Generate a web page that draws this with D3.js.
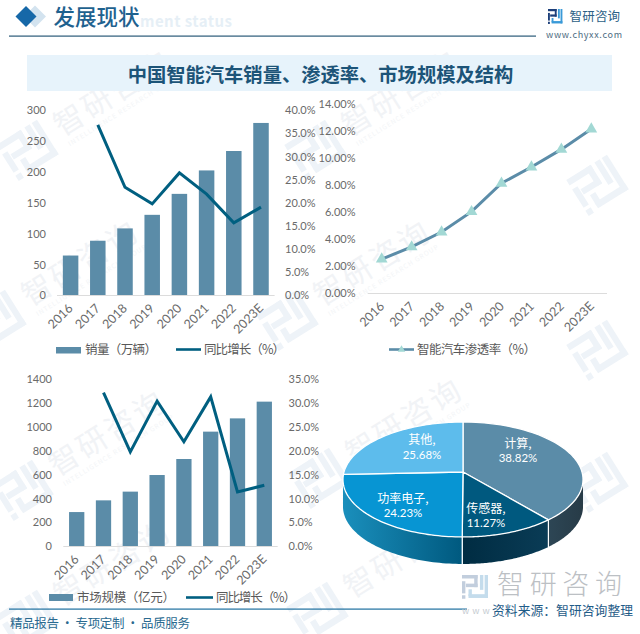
<!DOCTYPE html>
<html><head><meta charset="utf-8">
<script src="https://cdn.jsdelivr.net/npm/d3@7/dist/d3.min.js"></script>
<style>html,body{margin:0;padding:0;background:#fff}svg{display:block}
text{font-family:"Noto Sans CJK SC","Noto Sans",sans-serif}</style></head><body>
<svg id="c" width="640" height="634"></svg>
<script>
const years = ["2016","2017","2018","2019","2020","2021","2022","2023E"];
const salesValues = [64,88,108,130,164,202,233.5,279];
const salesGrowth = [null,36.8,23.3,19.7,26.4,21.8,15.6,19];
const penetration = [2.5,3.4,4.5,6.0,8.1,9.3,10.6,12.1];
const marketValues = [284,382,455,594,728,957,1068,1208];
const marketGrowth = [null,32.1,19.7,30.3,21.8,31.2,11.3,12.7];
const pieNames = ["计算","传感器","功率电子","其他"];
const pieShares = [38.82,11.27,24.23,25.68];

const svg = d3.select("#c");
const BAR="#5b8ca8", DARK="#005f80", TICK="#6a6a6a", LEG="#595959";
const defs = svg.append("defs");

function logo(p,x,y,sx,sy,c1,c2,op){
  const g=p.append("g").attr("transform",`translate(${x},${y}) scale(${sx},${sy})`).attr("opacity",op==null?1:op);
  const navy=[[0,0,12,2.6],[9.4,0,2.6,9],[3,6.4,9,2.6],[0,4.6,2.6,9],[0,15,2.6,2.6]];
  const blue=[[17.4,0,2.6,17],[5,14.2,15,2.8],[5,10.6,2.6,5],[13.8,0,2.6,11]];
  g.selectAll("r1").data(navy).join("rect").attr("x",d=>d[0]).attr("y",d=>d[1]).attr("width",d=>d[2]).attr("height",d=>d[3]).attr("fill",c1);
  g.selectAll("r2").data(blue).join("rect").attr("x",d=>d[0]).attr("y",d=>d[1]).attr("width",d=>d[2]).attr("height",d=>d[3]).attr("fill",c2);
}
// watermark layer: logo plus name; name and caption omitted where they would run off the page
const wm=[[30,150,2],[318,150,2],[600,185,0],[-2,320,2],[290,320,2],[600,350,0],[25,490,2],[322,478,2],[600,482,0],[30,620,1],[320,612,1]];
const wmG=svg.append("g");
wm.forEach(([x,y,level])=>{
  const g=wmG.append("g").attr("transform",`translate(${x},${y}) rotate(-32)`);
  logo(g,-26,-22,2.4,2.4,"#eef3f8","#eef3f8");
  if(level>=1) g.append("text").attr("x",34).attr("y",6).attr("font-size",30).attr("fill","#f1f3f6").attr("letter-spacing",3).text("智研咨询");
  if(level>=2) g.append("text").attr("x",36).attr("y",18).attr("font-size",6.5).attr("fill","#f3f5f7").attr("letter-spacing",1).text("INTELLIGENCE RESEARCH GROUP");
});

// header
const dia=(x,y,r,f)=>svg.append("path").attr("d",`M${x-r} ${y}L${x} ${y-r}L${x+r} ${y}L${x} ${y+r}Z`).attr("fill",f);
dia(35,16.5,11,"#d3e3ef"); dia(26,16.5,10.5,"#1668a8");
svg.append("text").attr("x",140).attr("y",27).attr("font-size",15).attr("font-weight",700)
  .attr("font-family","'DejaVu Serif',serif").attr("fill","#e6eff6").attr("textLength",92).text("ment status");
svg.append("text").attr("x",53.5).attr("y",25).attr("font-size",21.5).attr("font-weight",500).attr("fill","#1f628f").text("发展现状");
svg.append("rect").attr("x",9).attr("y",35.5).attr("width",527).attr("height",1.2).attr("fill","#2a5a78");
logo(svg,548,9,.72,.85,"#1d3f7a","#3a9ad8");
svg.append("text").attr("x",569.5).attr("y",20.5).attr("font-size",12.5).attr("fill","#2c5f86").attr("letter-spacing",.2).text("智研咨询");
svg.append("text").attr("x",546).attr("y",38).attr("font-size",9).attr("font-family","'DejaVu Serif',serif").attr("fill","#4d6c82").attr("textLength",76).text("www.chyxx.com");
svg.append("rect").attr("x",27).attr("y",55).attr("width",585).attr("height",36).attr("fill","#e7f3fb");
svg.append("text").attr("x",320.5).attr("y",82).attr("text-anchor","middle").attr("font-size",19.3).attr("font-weight",700).attr("fill","#1c5478").text("中国智能汽车销量、渗透率、市场规模及结构");

function styleAxis(g,anchor,dx){
  g.select(".domain").remove(); g.selectAll("line").remove();
  g.selectAll("text").attr("fill",TICK).attr("font-size",11).style("font-family","Lato,sans-serif")
    .attr("text-anchor",anchor).attr("dx",0).attr("x",dx).attr("dy",".35em");
}
function xLabels(g){
  g.select(".domain").remove(); g.selectAll("line").remove();
  g.selectAll("text").attr("fill",TICK).attr("font-size",12.5).style("font-family","Lato,sans-serif")
   .attr("text-anchor","end").attr("dy",0).attr("y",0).attr("transform","translate(3,14) rotate(-45)");
}
function legendSwatchBar(x,y,w,h){svg.append("rect").attr("x",x).attr("y",y).attr("width",w).attr("height",h).attr("fill",BAR);}
function legendLine(x,w,y,c){svg.append("line").attr("x1",x).attr("x2",x+w).attr("y1",y).attr("y2",y).attr("stroke",c).attr("stroke-width",2.6);}
function legendText(x,y,t,len){svg.append("text").attr("x",x).attr("y",y+4.5).attr("font-size",12.5).attr("fill",LEG).attr("textLength",len).text(t);}

function combo(o){
  const x=d3.scaleBand().domain(years).range(o.xr).paddingInner(.43).paddingOuter(.215);
  const y=d3.scaleLinear().domain([0,o.lmax]).range([o.y0,o.y1]);
  const yr=d3.scaleLinear().domain([0,o.rmax]).range([o.y0,o.y1]);
  svg.append("line").attr("x1",o.xr[0]).attr("x2",o.xr[1]).attr("y1",o.y0+.5).attr("y2",o.y0+.5).attr("stroke","#dcdcdc");
  svg.append("g").selectAll("rect").data(o.bars).join("rect")
    .attr("x",(d,i)=>x(years[i])).attr("width",x.bandwidth()).attr("y",d=>y(d)).attr("height",d=>o.y0-y(d)).attr("fill",BAR);
  const line=d3.line().defined(d=>d!=null).x((d,i)=>x(years[i])+x.bandwidth()/2).y(d=>yr(d));
  svg.append("path").attr("d",line(o.growth)).attr("fill","none").attr("stroke",DARK).attr("stroke-width",3).attr("stroke-linejoin","miter");
  svg.append("g").call(d3.axisLeft(y).tickValues(o.lticks).tickFormat(d=>d)).call(g=>styleAxis(g,"end",o.lx));
  svg.append("g").call(d3.axisRight(yr).tickValues(o.rticks).tickFormat(d=>d.toFixed(1)+"%")).call(g=>styleAxis(g,"start",o.rx));
  svg.append("g").attr("transform",`translate(0,${o.y0})`).call(d3.axisBottom(x)).call(xLabels);
}
combo({bars:salesValues,growth:salesGrowth,xr:[57,274.6],y0:295,y1:110,lmax:300,rmax:40,
  lticks:d3.range(0,301,50),rticks:d3.range(0,41,5),lx:46,rx:285});
legendSwatchBar(56,347,25,6.5); legendText(85,349.5,"销量（万辆）",72);
legendLine(176,25,349.5,DARK); legendText(204,349.5,"同比增长（%）",81);

combo({bars:marketValues,growth:marketGrowth,xr:[63.3,277.7],y0:546,y1:378.7,lmax:1400,rmax:35,
  lticks:d3.range(0,1401,200),rticks:d3.range(0,36,5),lx:52,rx:288.5});
legendSwatchBar(49,594,24,7); legendText(77,597.5,"市场规模（亿元）",98);
legendLine(186,27,597.5,DARK); legendText(216,597.5,"同比增长（%）",80);

// penetration line
{
  const x=d3.scalePoint().domain(years).range([381.7,591.3]);
  const y=d3.scaleLinear().domain([0,14]).range([293,103.3]);
  svg.append("line").attr("x1",367.7).attr("x2",607).attr("y1",293.5).attr("y2",293.5).attr("stroke","#dcdcdc");
  svg.append("path").attr("d",d3.line().x((d,i)=>x(years[i])).y(d=>y(d))(penetration)).attr("fill","none").attr("stroke",BAR).attr("stroke-width",3);
  const tri=d3.symbol(d3.symbolTriangle,60);
  svg.append("g").selectAll("path").data(penetration).join("path").attr("d",tri)
    .attr("transform",(d,i)=>`translate(${x(years[i])},${y(d)})`).attr("fill","#a2d8d4");
  svg.append("g").call(d3.axisLeft(y).tickValues(d3.range(0,15,2)).tickFormat(d=>d.toFixed(2)+"%")).call(g=>styleAxis(g,"end",355.5));
  svg.append("g").attr("transform","translate(0,293)").call(d3.axisBottom(x)).call(xLabels);
  legendLine(389,25,349.5,BAR);
  svg.append("path").attr("d",d3.symbol(d3.symbolTriangle,24)).attr("transform","translate(401.5,349.5)").attr("fill","#a2d8d4");
  legendText(417,349.5,"智能汽车渗透率（%）",119);
}

// 3D pie
{
  const cx=463, cy=472, b=119, a=56.5, k=.1304, depth=27;
  const proj=(th,r=1,dz=0)=>{const u=r*Math.sin(th),v=-r*Math.cos(th),w=1-k*v;return [cx+b*u/w,cy+a*v/w+dz];};
  const arcs=d3.pie().sort(null).value(d=>d)(pieShares);
  const topCol=[BAR,"#00597f","#0795d3","#5dbcec"];
  const grads=[["#2d4655","#273b47"],["#002c42","#0a3c56"],["#1a8fbc","#00587e"],["#000","#000"]];
  const samples=(s,e)=>d3.range(0,61).map(i=>s+(e-s)*i/60);
  const visA=Math.acos(-k), visB=2*Math.PI-visA;
  const gSide=svg.append("g"), gTop=svg.append("g");
  arcs.forEach((d,i)=>{
    const s=Math.max(d.startAngle,visA), e=Math.min(d.endAngle,visB);
    if(e>s){
      const id="sg"+i, p0=proj(s), p1=proj(e);
      const lg=defs.append("linearGradient").attr("id",id).attr("gradientUnits","userSpaceOnUse")
        .attr("x1",p0[0]).attr("x2",p1[0]).attr("y1",0).attr("y2",0);
      if(i==2){
        lg.append("stop").attr("offset",0).attr("stop-color","#00597f");
        lg.append("stop").attr("offset",1).attr("stop-color","#1a8fbc");
      } else {
        lg.append("stop").attr("offset",0).attr("stop-color",grads[i][1]);
        lg.append("stop").attr("offset",1).attr("stop-color",grads[i][0]);
      }
      const ang=samples(s,e);
      const pts=ang.map(t=>proj(t)).concat(ang.slice().reverse().map(t=>proj(t,1,depth)));
      gSide.append("path").attr("d",d3.line()(pts)+"Z").attr("fill",`url(#${id})`);
      [d.startAngle,d.endAngle].forEach(t=>{ if(t>=visA&&t<visB-.001){const q=proj(t);
        gSide.append("line").attr("x1",q[0]).attr("x2",q[0]).attr("y1",q[1]).attr("y2",q[1]+depth).attr("stroke","#fff").attr("stroke-width",1.2);} });
    }
    const pts=[[cx,cy]].concat(samples(d.startAngle,d.endAngle).map(t=>proj(t)));
    gTop.append("path").attr("d",d3.line()(pts)+"Z").attr("fill",topCol[i]).attr("stroke","#fff").attr("stroke-width",1.3).attr("stroke-linejoin","round");
  });
  const labelPos=[[518,443],[486,508],[403,498],[422,439.5]];
  const lab=svg.append("g").attr("fill","#fff").attr("text-anchor","middle");
  arcs.forEach((d,i)=>{
    lab.append("text").attr("x",labelPos[i][0]).attr("y",labelPos[i][1]+4.5).attr("font-size",12).text(pieNames[i]+",");
    lab.append("text").attr("x",labelPos[i][0]).attr("y",labelPos[i][1]+19).attr("font-size",11.5).style("font-family","Lato,sans-serif").text(pieShares[i].toFixed(2)+"%");
  });
}

// footer
logo(svg,462,575,1.3,1.35,"#c2cedd","#c4dcec");
svg.append("text").attr("x",497).attr("y",594).attr("font-size",27).attr("font-weight",300).attr("fill","#bcc0c4").attr("textLength",125).text("智研咨询");
svg.append("rect").attr("x",9).attr("y",608.5).attr("width",458).attr("height",1.2).attr("fill","#1d6f9f");
svg.append("text").attr("x",462).attr("y",614).attr("font-size",9).attr("fill","#c6ccd2").attr("letter-spacing",3).text("www");
svg.append("text").attr("x",492).attr("y",615).attr("font-size",12.8).attr("fill","#1f5c88").attr("textLength",141).text("资料来源：智研咨询整理");
svg.append("text").attr("x",10).attr("y",628).attr("font-size",12.5).attr("fill","#2a6a90").attr("textLength",180).text("精品报告 · 专项定制 · 品质服务");
</script></body></html>
